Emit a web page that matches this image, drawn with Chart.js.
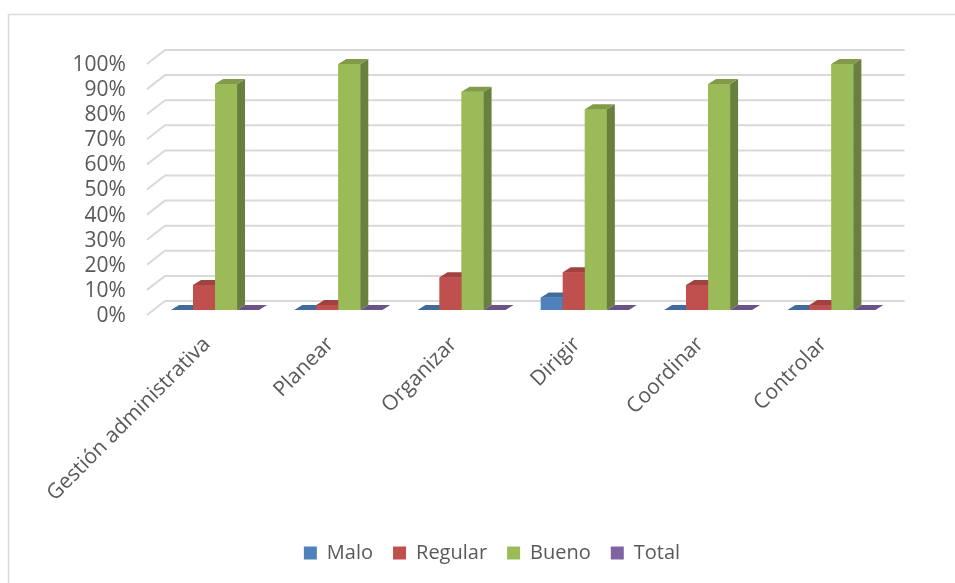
<!DOCTYPE html>
<html>
<head>
<meta charset="utf-8">
<script src="https://cdn.jsdelivr.net/npm/chart.js@4.4.1/dist/chart.umd.min.js"></script>
<style>
  html, body { margin: 0; padding: 0; background: #fff; }
  canvas { display: block; }
</style>
</head>
<body>
<canvas id="chart" width="955" height="583"></canvas>
<script>
// Values (percent)
const categories = ['Gestión administrativa', 'Planear', 'Organizar', 'Dirigir', 'Coordinar', 'Controlar'];
const malo = [0, 0, 0, 5, 0, 0];
const regular = [10, 2, 13, 15, 10, 2];
const bueno = [90, 98, 87, 80, 90, 98];
const total = [0, 0, 0, 0, 0, 0];
const yTicks = [0, 10, 20, 30, 40, 50, 60, 70, 80, 90, 100];

const textColor = '#595959';
const gridColor = '#d9d9d9';

// 3D look: walls sit behind the bars, labels in front
const DEPTH_X = 1.29;
const BACK = 9, FRONT = 5;
const BAR_DX = 8, BAR_DY = -5;

function shade(hex, f) {
  const n = parseInt(hex.slice(1), 16);
  const r = Math.round(((n >> 16) & 255) * f);
  const g = Math.round(((n >> 8) & 255) * f);
  const b = Math.round((n & 255) * f);
  return `rgb(${r},${g},${b})`;
}

// Frame, back wall gridlines and y labels
const walls = {
  id: 'walls',
  beforeDraw(chart) {
    const ctx = chart.ctx;
    ctx.save();
    ctx.strokeStyle = gridColor;
    ctx.lineWidth = 1.5;
    ctx.beginPath();
    ctx.moveTo(8.5, chart.height);
    ctx.lineTo(8.5, 14.5);
    ctx.lineTo(chart.width, 14.5);
    ctx.stroke();
    ctx.restore();
  },
  beforeDatasetsDraw(chart) {
    const { ctx, chartArea: a, scales: { y } } = chart;
    ctx.save();
    ctx.strokeStyle = gridColor;
    ctx.lineWidth = 2;
    ctx.font = '21px "Open Sans"';
    ctx.fillStyle = textColor;
    ctx.textAlign = 'right';
    ctx.textBaseline = 'middle';
    yTicks.forEach(v => {
      const py = y.getPixelForValue(v);
      const fx = a.left - FRONT * DEPTH_X, fy = py + FRONT;
      const bx = a.left + BACK * DEPTH_X, by = py - BACK;
      ctx.beginPath();
      ctx.moveTo(fx, fy);
      ctx.lineTo(bx, by);
      ctx.lineTo(a.right + BACK * DEPTH_X, by);
      ctx.stroke();
      ctx.fillText(v + '%', fx - 21, fy + 1);
    });
    ctx.restore();
  }
};

// Side and top faces of each bar, series by series
const bar3d = {
  id: 'bar3d',
  afterDatasetsDraw(chart) {
    const ctx = chart.ctx;
    ctx.save();
    chart.data.datasets.forEach((ds, i) => {
      const meta = chart.getDatasetMeta(i);
      meta.data.forEach(bar => {
        const { x, y, base, width } = bar.getProps(['x', 'y', 'base', 'width'], true);
        const l = x - width / 2, r = x + width / 2;
        bar.draw(ctx);
        ctx.fillStyle = shade(ds.backgroundColor, 0.68);
        ctx.beginPath();
        ctx.moveTo(r, y);
        ctx.lineTo(r + BAR_DX, y + BAR_DY);
        ctx.lineTo(r + BAR_DX, base + BAR_DY);
        ctx.lineTo(r, base);
        ctx.closePath();
        ctx.fill();
        ctx.fillStyle = shade(ds.backgroundColor, 0.83);
        ctx.beginPath();
        ctx.moveTo(l, y);
        ctx.lineTo(l + BAR_DX, y + BAR_DY);
        ctx.lineTo(r + BAR_DX, y + BAR_DY);
        ctx.lineTo(r, y);
        ctx.closePath();
        ctx.fill();
      });
    });
    ctx.restore();
  }
};

Chart.defaults.font.family = '"Open Sans", sans-serif';
Chart.defaults.color = textColor;

new Chart(document.getElementById('chart'), {
  type: 'bar',
  data: {
    labels: categories,
    datasets: [
      { label: 'Malo', data: malo, backgroundColor: '#4F81BD' },
      { label: 'Regular', data: regular, backgroundColor: '#C0504D' },
      { label: 'Bueno', data: bueno, backgroundColor: '#9BBB59' },
      { label: 'Total', data: total, backgroundColor: '#8064A2' },
    ],
  },
  options: {
    responsive: false,
    animation: false,
    layout: { padding: { left: 91, right: 62, top: 59, bottom: 10 } },
    datasets: { bar: { categoryPercentage: 0.714, barPercentage: 1, borderWidth: 0 } },
    scales: {
      y: {
        min: 0,
        max: 100,
        ticks: { display: false },
        grid: { display: false },
        border: { display: false },
        afterFit(scale) { scale.width = 62.4; },
      },
      x: {
        grid: { display: false, drawTicks: false },
        border: { display: false },
        ticks: {
          autoSkip: false,
          minRotation: 45,
          maxRotation: 45,
          padding: 22,
          labelOffset: -8,
          font: { size: 21 },
          color: textColor,
        },
        afterFit(scale) { scale.height = 213; },
      },
    },
    plugins: {
      tooltip: { enabled: false },
      legend: {
        position: 'bottom',
        labels: { boxWidth: 13, boxHeight: 13, padding: 20, font: { size: 20 }, color: textColor },
      },
    },
  },
  plugins: [walls, bar3d],
});
</script>
</body>
</html>
